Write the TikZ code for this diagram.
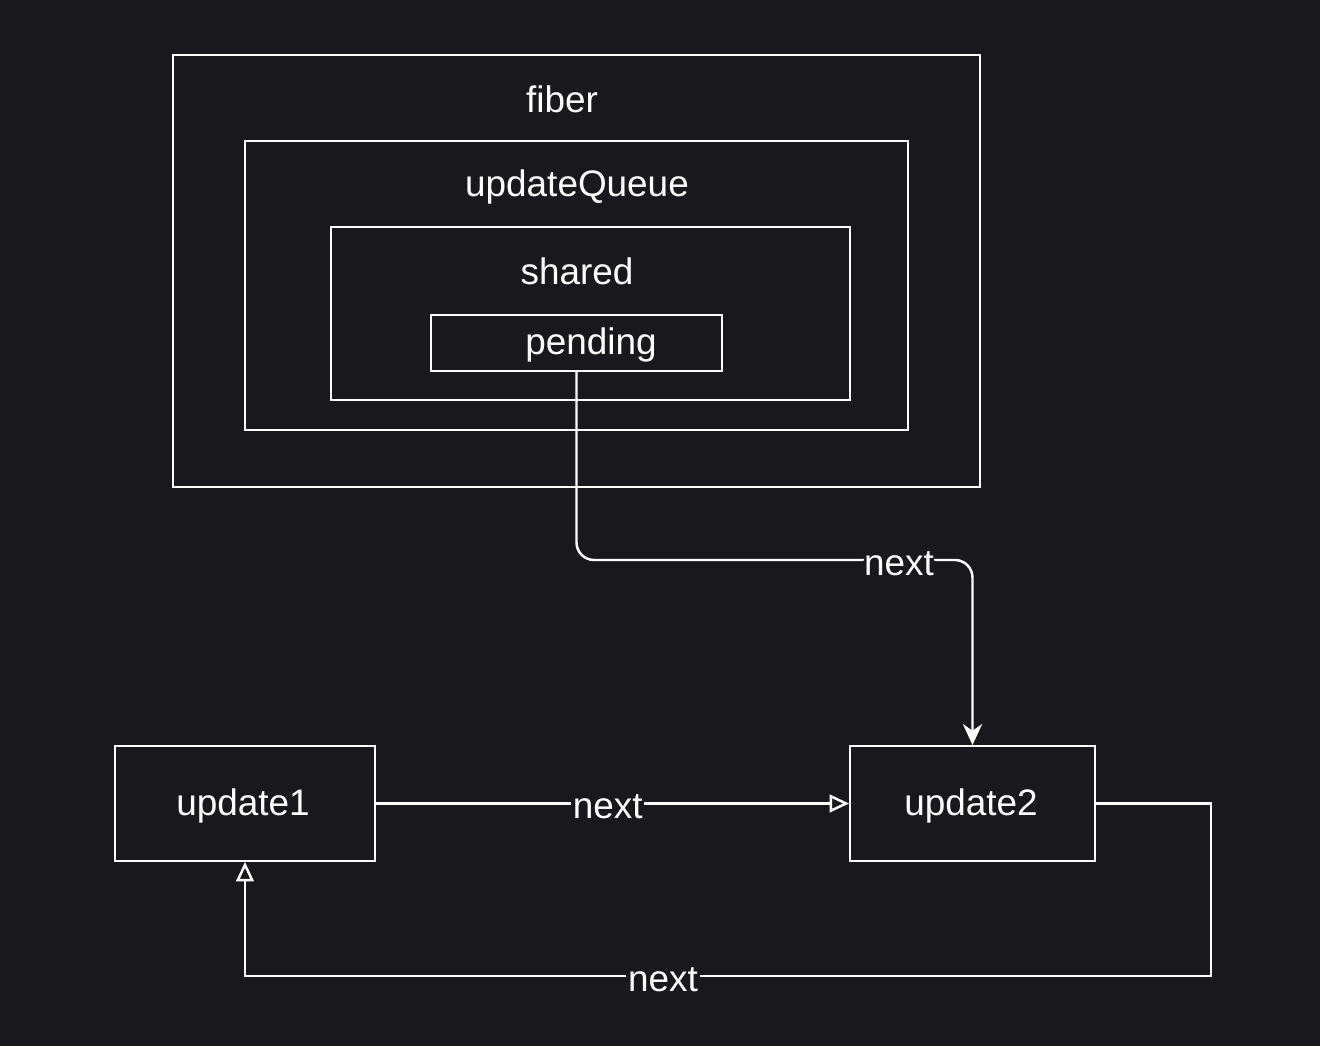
\documentclass[tikz,border=0pt]{standalone}
\usepackage{fontspec}
\setmainfont{Liberation Sans}
\usetikzlibrary{arrows.meta}
\definecolor{bgcol}{RGB}{25,24,29}

\begin{document}
\begin{tikzpicture}
                [
                x=0.02cm, y=-0.02cm,
                box/.style={draw=white,line width=1.1pt,inner sep=0pt},
                txt/.style={text=white,font=\fontsize{21}{25}\selectfont},
                lbl/.style={txt,fill=bgcol,inner sep=1pt,yshift=-2pt},
                edge/.style={draw=white,line width=1.4pt,rounded corners=10pt,-{Stealth[length=12pt,width=11pt]}},
                back/.style={draw=white,line width=1.4pt,-{Triangle[open,length=11pt,width=10pt]}}
                ]
            \fill[bgcol] (0,0) rectangle (1320,1046);
            \node[box,minimum width=16.14cm,minimum height=8.64cm] (1) at (576.5,271) {};
            \node[box,minimum width=13.26cm,minimum height=5.78cm] (2) at (576.5,285.5) {};
            \node[box,minimum width=10.38cm,minimum height=3.46cm] (3) at (590.5,313.5) {};
            \node[box,minimum width=5.82cm,minimum height=1.12cm] (4) at (576.5,343) {};
            \node[box,minimum width=5.2cm,minimum height=2.3cm] (5) at (245,803.5) {};
            \node[box,minimum width=4.9cm,minimum height=2.3cm] (6) at (972.5,803.5) {};
            \node[txt] (t1) at (562,99) {fiber};
            \node[txt] (t2) at (577,187) {updateQueue};
            \node[txt] (t3) at (577,271) {shared};
            \node[txt] (t4) at (591,345) {pending};
            \node[txt] (t5) at (243,806) {update1};
            \node[txt] (t6) at (971,806) {update2};
            \draw[edge] (4.south) |- (899,560) node[lbl] (n1) {next} -| (6.north);
            \draw[back] (5.east) -- node[lbl,pos=0.49] (n2) {next} (6.west);
            \draw[back] (6.east) -| (1211,976) -- (663,976) node[lbl] (n3) {next} -| (5.south);
            \end{tikzpicture}
\end{document}
